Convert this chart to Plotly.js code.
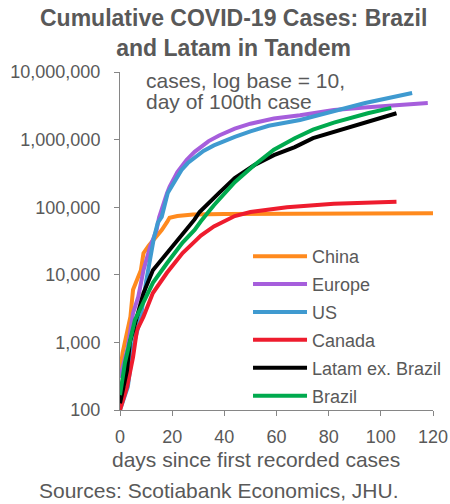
<!DOCTYPE html>
<html>
<head>
<meta charset="utf-8">
<script src="https://cdn.plot.ly/plotly-3.0.1.min.js"></script>
<style>html,body{margin:0;padding:0;background:#fff;}#chart{width:450px;height:504px;}</style>
</head>
<body>
<div id="chart"></div>
<script>
// Series names
const seriesNames = ["China", "Europe", "US", "Canada", "Latam ex. Brazil", "Brazil"];

// Days and cumulative cases
const chinaDays = [0, 1, 4, 5, 8, 9, 11, 13, 15, 16, 18, 19, 22, 28, 40, 60, 80, 100, 121];
const chinaCases = [350, 700, 2400, 6000, 11700, 20900, 27000, 33000, 40000, 46000, 60000, 70000, 74000, 78000, 79000, 80000, 80500, 81000, 81500];

const europeDays = [0, 3, 5, 7, 9, 11.5, 14, 15, 18, 19, 22, 25.5, 28.6, 34, 38, 44, 50, 59, 69, 82, 95, 105, 118];
const europeCases = [300, 850, 2700, 4700, 11700, 25700, 45700, 71000, 160000, 200000, 330000, 500000, 660000, 950000, 1150000, 1450000, 1720000, 2050000, 2300000, 2750000, 3020000, 3250000, 3470000];

const usDays = [0, 3, 5, 8, 10, 12, 13, 14.5, 16, 18.3, 21, 23.6, 26, 28.6, 32, 36, 40, 44, 50, 57, 69, 81, 94, 112];
const usCases = [100, 220, 850, 2400, 7900, 23000, 35000, 59000, 72000, 162000, 250000, 355000, 450000, 540000, 680000, 820000, 950000, 1100000, 1320000, 1600000, 1950000, 2570000, 3470000, 4900000];

const canadaDays = [0, 2.7, 5, 6.5, 9, 12.6, 18, 24, 28.6, 31, 36, 44, 50, 59, 64, 82, 95, 106];
const canadaCases = [100, 219, 603, 1514, 2400, 5370, 10700, 21000, 31000, 38000, 52000, 74000, 85000, 96000, 100000, 112000, 115000, 120000];

const latamDays = [0, 2.7, 3.8, 6.5, 9, 12.6, 18, 24, 28.6, 30.5, 36, 38, 44, 51.4, 59, 67, 74, 82, 95, 106];
const latamCases = [126, 389, 1000, 2400, 5370, 11700, 20900, 42000, 66000, 85000, 140000, 163000, 270000, 417000, 589000, 776000, 1050000, 1290000, 1820000, 2450000];

const brazilDays = [0, 1.9, 5.7, 9, 12.6, 18, 24, 28.6, 31, 36, 44, 51.4, 59, 67, 74, 82, 95, 104];
const brazilCases = [166, 501, 2138, 3800, 7600, 14800, 30000, 46000, 62000, 107000, 235000, 417000, 708000, 1050000, 1400000, 1780000, 2450000, 2950000];

const seriesColors = ["#FF8A1E", "#A65EDC", "#3F9AD0", "#EE1C2E", "#000000", "#00AA4E"];

// Axis ticks
const yTickVals = [100, 1000, 10000, 100000, 1000000, 10000000];
const yTickText = ["100", "1,000", "10,000", "100,000", "1,000,000", "10,000,000"];
const xTickVals = [0, 20, 40, 60, 80, 100, 120];

const titleText = "Cumulative COVID-19 Cases: Brazil<br>and Latam in Tandem";
const noteLines = ["cases, log base = 10,", "day of 100th case"];
const xTitleText = "days since first recorded cases";
const sourceText = "Sources: Scotiabank Economics, JHU.";

const allDays = [chinaDays, europeDays, usDays, canadaDays, latamDays, brazilDays];
const allCases = [chinaCases, europeCases, usCases, canadaCases, latamCases, brazilCases];

const FONT = "Liberation Sans, Arial, sans-serif";
const GREY = "#595959";

const traces = seriesNames.map((name, i) => ({
  type: "scatter",
  mode: "lines",
  name: name,
  x: allDays[i],
  y: allCases[i],
  legendgroup: "g" + i,
  line: {color: seriesColors[i], width: 4}
}));

const layout = {
  width: 450,
  height: 504,
  paper_bgcolor: "#ffffff",
  plot_bgcolor: "#ffffff",
  margin: {l: 120, r: 17, t: 72, b: 94, autoexpand: false},
  font: {family: FONT, color: GREY, size: 18},
  xaxis: {
    range: [0, 120],
    tickvals: xTickVals,
    ticks: "outside",
    ticklen: 5,
    tickcolor: "#868686",
    showline: true,
    linecolor: "#868686",
    linewidth: 1,
    showgrid: false,
    zeroline: false,
    tickfont: {family: FONT, size: 18, color: GREY},
    ticklabelstandoff: 5
  },
  yaxis: {
    type: "log",
    range: [2, 7],
    tickvals: yTickVals,
    ticktext: yTickText,
    ticks: "outside",
    ticklen: 5,
    tickcolor: "#868686",
    showline: true,
    linecolor: "#868686",
    linewidth: 1,
    showgrid: false,
    zeroline: false,
    tickfont: {family: FONT, size: 18, color: GREY},
    ticklabelstandoff: 10
  },
  showlegend: true,
  legend: {
    x: 0.409, xanchor: "left",
    y: 0.509, yanchor: "top",
    bgcolor: "rgba(0,0,0,0)",
    borderwidth: 0,
    font: {family: FONT, size: 18, color: GREY},
    itemwidth: 54,
    tracegroupgap: 1.5
  },
  annotations: [
    {text: titleText, xref: "paper", yref: "paper", x: 0.3626, y: 1.115, xanchor: "center", yanchor: "middle",
     showarrow: false, font: {family: FONT, size: 23, color: GREY, weight: "bold"}},
    {text: noteLines[0], xref: "paper", yref: "paper", x: 0.078, y: 0.976, xanchor: "left", yanchor: "middle",
     showarrow: false, font: {family: FONT, size: 21, color: GREY}},
    {text: noteLines[1], xref: "paper", yref: "paper", x: 0.078, y: 0.913, xanchor: "left", yanchor: "middle",
     showarrow: false, font: {family: FONT, size: 21, color: GREY}},
    {text: xTitleText, xref: "paper", yref: "paper", x: 0.436, y: -0.145, xanchor: "center", yanchor: "middle",
     showarrow: false, font: {family: FONT, size: 21, color: GREY}},
    {text: sourceText, xref: "paper", yref: "paper", x: -0.265, y: -0.237, xanchor: "left", yanchor: "middle",
     showarrow: false, font: {family: FONT, size: 21, color: GREY}}
  ]
};

Plotly.newPlot("chart", traces, layout, {displayModeBar: false, staticPlot: true});
</script>
</body>
</html>
